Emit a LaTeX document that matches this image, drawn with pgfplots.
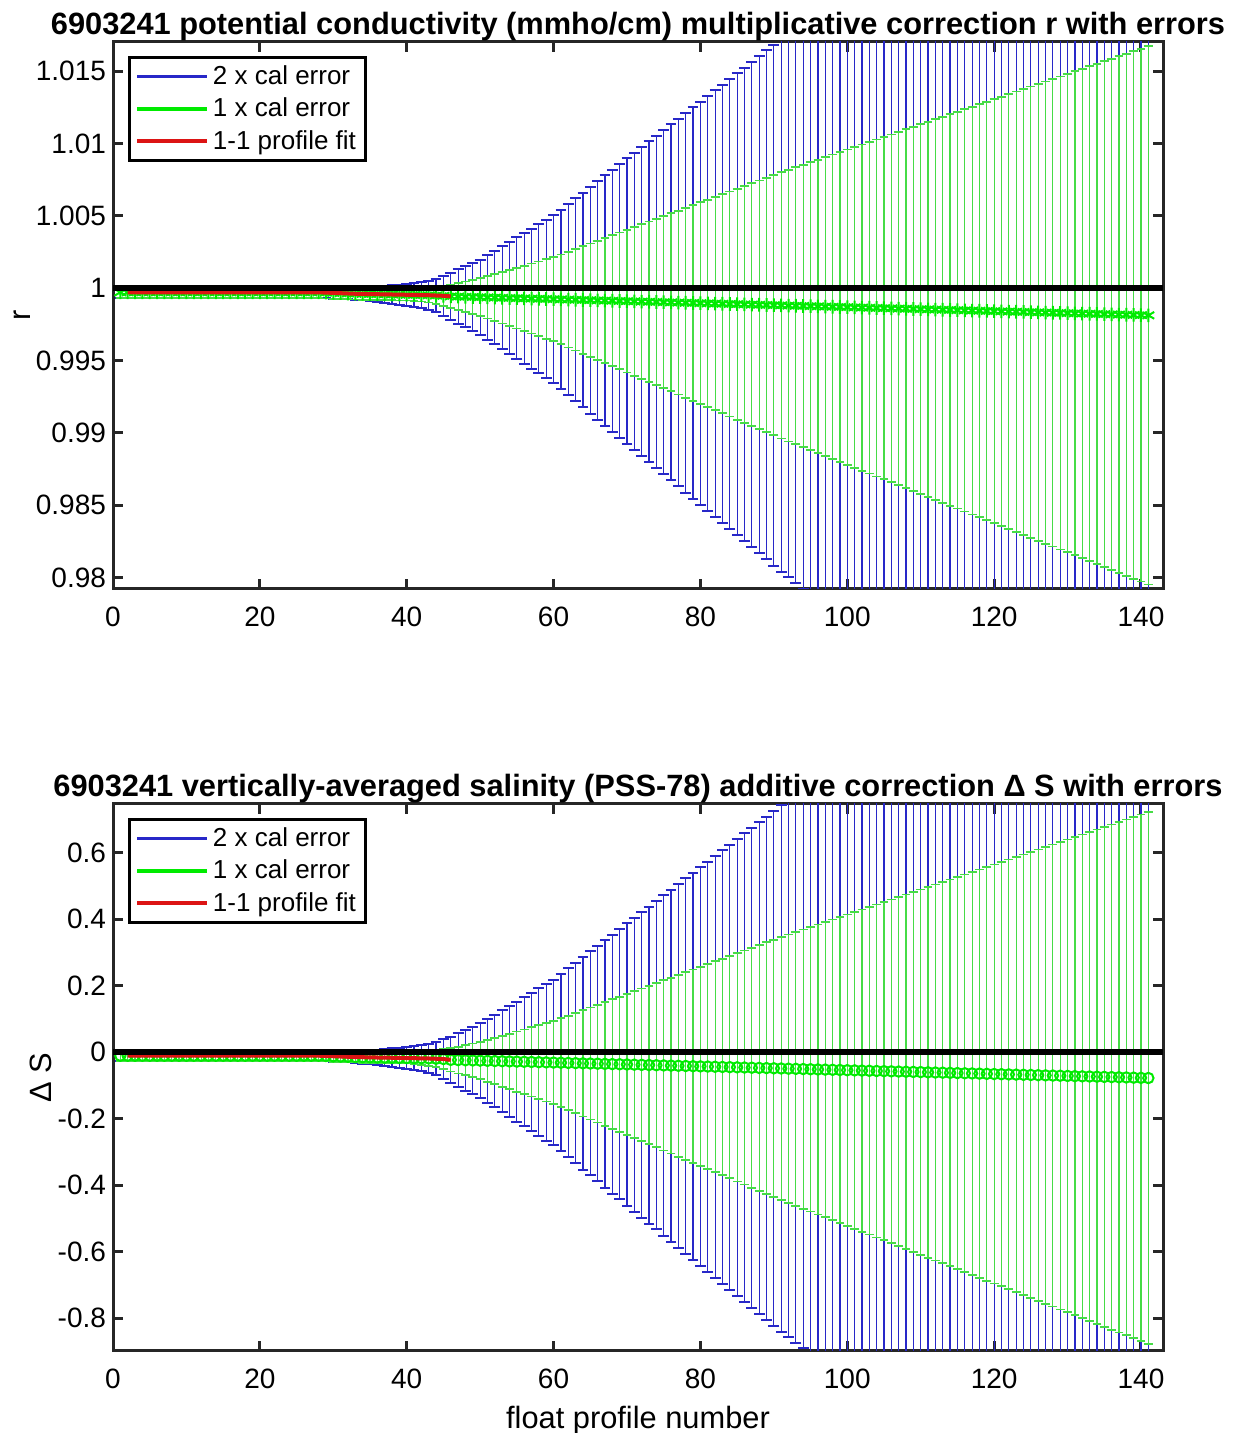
\documentclass[border=0pt]{standalone}
\usepackage{pgfplots}
\usepackage{pgfplotstable}
\pgfplotsset{compat=1.18}
\usepackage{fontspec}
\setmainfont{Liberation Sans}
\definecolor{cBlue}{RGB}{40,40,200}
\definecolor{cGreen}{RGB}{0,235,0}
\definecolor{cBar}{RGB}{70,220,70}
\definecolor{cRed}{RGB}{220,20,20}
\definecolor{cAx}{RGB}{38,38,38}

% n: profile, r: correction, e: 1x error, b: 2x error, s: Delta S, es: 1x error, bs: 2x error
\pgfplotstableread{
n r e b s es bs
1 0.99972 0.0004 0.0004 -0.0110 0.0165 0.0165
2 0.99972 0.0004 0.0004 -0.0110 0.0165 0.0165
3 0.99972 0.0004 0.0004 -0.0110 0.0165 0.0165
4 0.99972 0.0004 0.0004 -0.0110 0.0165 0.0165
5 0.99972 0.0004 0.0004 -0.0110 0.0165 0.0165
6 0.99972 0.0004 0.0004 -0.0110 0.0165 0.0165
7 0.99972 0.0004 0.0004 -0.0110 0.0165 0.0165
8 0.99972 0.0004 0.0004 -0.0110 0.0165 0.0165
9 0.99972 0.0004 0.0004 -0.0110 0.0165 0.0165
10 0.99972 0.0004 0.0004 -0.0110 0.0165 0.0165
11 0.99972 0.0004 0.0004 -0.0110 0.0165 0.0165
12 0.99972 0.0004 0.0004 -0.0110 0.0165 0.0165
13 0.99972 0.0004 0.0004 -0.0110 0.0165 0.0165
14 0.99972 0.0004 0.0004 -0.0110 0.0165 0.0165
15 0.99972 0.0004 0.0004 -0.0110 0.0165 0.0165
16 0.99972 0.0004 0.0004 -0.0110 0.0165 0.0165
17 0.99972 0.0004 0.0004 -0.0110 0.0165 0.0165
18 0.99972 0.0004 0.0004 -0.0110 0.0165 0.0165
19 0.99972 0.0004 0.0004 -0.0110 0.0165 0.0165
20 0.99972 0.0004 0.0004 -0.0110 0.0165 0.0165
21 0.99972 0.0004 0.0004 -0.0110 0.0165 0.0165
22 0.99972 0.0004 0.0004 -0.0110 0.0165 0.0165
23 0.99972 0.0004 0.0004 -0.0110 0.0165 0.0165
24 0.99972 0.0004 0.0004 -0.0110 0.0165 0.0165
25 0.99972 0.0004 0.0004 -0.0110 0.0165 0.0165
26 0.99972 0.0004 0.0004 -0.0110 0.0165 0.0165
27 0.99972 0.0004 0.0004 -0.0110 0.0165 0.0165
28 0.99972 0.0004 0.0004 -0.0110 0.0165 0.0165
29 0.99970 0.0004 0.0004 -0.0118 0.0165 0.0165
30 0.99968 0.0004 0.0004 -0.0126 0.0165 0.0165
31 0.99966 0.0004 0.0004 -0.0134 0.0165 0.0165
32 0.99964 0.0004 0.0004 -0.0143 0.0165 0.0165
33 0.99962 0.0004 0.0004 -0.0151 0.0165 0.0165
34 0.99961 0.0004 0.00045 -0.0155 0.0165 0.019
35 0.99960 0.0004 0.00050 -0.0160 0.0165 0.021
36 0.99959 0.0004 0.00055 -0.0164 0.0165 0.024
37 0.99958 0.0004 0.00060 -0.0168 0.0165 0.026
38 0.99957 0.0004 0.00065 -0.0172 0.0165 0.028
39 0.99956 0.0004 0.00070 -0.0176 0.0165 0.030
40 0.99955 0.0004 0.00075 -0.0181 0.0165 0.032
41 0.99954 0.00042 0.00084 -0.0185 0.0180 0.0360
42 0.99953 0.00045 0.00090 -0.0189 0.0194 0.0388
43 0.99952 0.00050 0.00100 -0.0193 0.0215 0.0430
44 0.99950 0.000571 0.001142 -0.0202 0.0246 0.0492
45 0.99948 0.000693 0.001386 -0.0210 0.0298 0.0596
46 0.999440 0.000814 0.001628 -0.0235 0.0350 0.0700
47 0.999426 0.000936 0.001872 -0.0241 0.0402 0.0804
48 0.999412 0.001057 0.002114 -0.0247 0.0455 0.0910
49 0.999399 0.001179 0.002358 -0.0252 0.0507 0.1014
50 0.999385 0.001300 0.002600 -0.0258 0.0559 0.1118
51 0.999371 0.001460 0.002920 -0.0264 0.0628 0.1256
52 0.999357 0.001620 0.003240 -0.0270 0.0697 0.1394
53 0.999343 0.001780 0.003560 -0.0275 0.0765 0.1530
54 0.999330 0.001940 0.003880 -0.0281 0.0834 0.1668
55 0.999316 0.002100 0.004200 -0.0287 0.0903 0.1806
56 0.999302 0.002260 0.004520 -0.0293 0.0972 0.1944
57 0.999288 0.002420 0.004840 -0.0298 0.1041 0.2082
58 0.999274 0.002580 0.005160 -0.0304 0.1109 0.2218
59 0.999261 0.002740 0.005480 -0.0310 0.1178 0.2356
60 0.999247 0.002900 0.005800 -0.0316 0.1247 0.2494
61 0.999233 0.003103 0.006206 -0.0321 0.1334 0.2668
62 0.999219 0.003306 0.006612 -0.0327 0.1422 0.2844
63 0.999205 0.003510 0.007020 -0.0333 0.1509 0.3018
64 0.999192 0.003713 0.007426 -0.0339 0.1597 0.3194
65 0.999178 0.003916 0.007832 -0.0344 0.1684 0.3368
66 0.999164 0.004119 0.008238 -0.0350 0.1771 0.3542
67 0.999150 0.004323 0.008646 -0.0356 0.1859 0.3718
68 0.999136 0.004526 0.009052 -0.0362 0.1946 0.3892
69 0.999123 0.004729 0.009458 -0.0367 0.2033 0.4066
70 0.999109 0.004932 0.009864 -0.0373 0.2121 0.4242
71 0.999095 0.005135 0.010270 -0.0379 0.2208 0.4416
72 0.999081 0.005339 0.010678 -0.0385 0.2296 0.4592
73 0.999067 0.005542 0.011084 -0.0390 0.2383 0.4766
74 0.999054 0.005745 0.011490 -0.0396 0.2470 0.4940
75 0.999040 0.005948 0.011896 -0.0402 0.2558 0.5116
76 0.999026 0.006152 0.012304 -0.0408 0.2645 0.5290
77 0.999012 0.006355 0.012710 -0.0413 0.2733 0.5466
78 0.998998 0.006558 0.013116 -0.0419 0.2820 0.5640
79 0.998985 0.006761 0.013522 -0.0425 0.2907 0.5814
80 0.998971 0.006965 0.013930 -0.0431 0.2995 0.5990
81 0.998957 0.007168 0.014336 -0.0436 0.3082 0.6164
82 0.998943 0.007371 0.014742 -0.0442 0.3170 0.6340
83 0.998929 0.007574 0.015148 -0.0448 0.3257 0.6514
84 0.998916 0.007777 0.015554 -0.0454 0.3344 0.6688
85 0.998902 0.007981 0.015962 -0.0459 0.3432 0.6864
86 0.998888 0.008184 0.016368 -0.0465 0.3519 0.7038
87 0.998874 0.008387 0.016774 -0.0471 0.3606 0.7212
88 0.998860 0.008590 0.017180 -0.0477 0.3694 0.7388
89 0.998847 0.008794 0.017588 -0.0482 0.3781 0.7562
90 0.998833 0.008997 0.017994 -0.0488 0.3869 0.7738
91 0.998819 0.009200 0.018400 -0.0494 0.3956 0.7912
92 0.998805 0.009388 0.018776 -0.0500 0.4037 0.8074
93 0.998791 0.009576 0.019152 -0.0505 0.4118 0.8236
94 0.998778 0.009764 0.019528 -0.0511 0.4199 0.8398
95 0.998764 0.009952 0.019904 -0.0517 0.4279 0.8558
96 0.998750 0.010140 0.020280 -0.0523 0.4360 0.8720
97 0.998736 0.010328 0.020656 -0.0528 0.4441 0.8882
98 0.998722 0.010516 0.021032 -0.0534 0.4522 0.9044
99 0.998709 0.010704 0.021408 -0.0540 0.4603 0.9206
100 0.998695 0.010892 0.021784 -0.0546 0.4684 0.9368
101 0.998681 0.011080 0.022160 -0.0551 0.4764 0.9528
102 0.998667 0.011268 0.022536 -0.0557 0.4845 0.9690
103 0.998653 0.011456 0.022912 -0.0563 0.4926 0.9852
104 0.998640 0.011644 0.023288 -0.0569 0.5007 1.0014
105 0.998626 0.011832 0.023664 -0.0574 0.5088 1.0176
106 0.998612 0.012020 0.024040 -0.0580 0.5169 1.0338
107 0.998598 0.012208 0.024416 -0.0586 0.5249 1.0498
108 0.998584 0.012396 0.024792 -0.0592 0.5330 1.0660
109 0.998571 0.012584 0.025168 -0.0597 0.5411 1.0822
110 0.998557 0.012772 0.025544 -0.0603 0.5492 1.0984
111 0.998543 0.012960 0.025920 -0.0609 0.5573 1.1146
112 0.998529 0.013148 0.026296 -0.0615 0.5654 1.1308
113 0.998515 0.013336 0.026672 -0.0620 0.5734 1.1468
114 0.998502 0.013524 0.027048 -0.0626 0.5815 1.1630
115 0.998488 0.013712 0.027424 -0.0632 0.5896 1.1792
116 0.998474 0.013900 0.027800 -0.0638 0.5977 1.1954
117 0.998460 0.014088 0.028176 -0.0643 0.6058 1.2116
118 0.998446 0.014276 0.028552 -0.0649 0.6139 1.2278
119 0.998433 0.014464 0.028928 -0.0655 0.6220 1.2440
120 0.998419 0.014652 0.029304 -0.0661 0.6300 1.2600
121 0.998405 0.014840 0.029680 -0.0666 0.6381 1.2762
122 0.998391 0.015028 0.030056 -0.0672 0.6462 1.2924
123 0.998377 0.015216 0.030432 -0.0678 0.6543 1.3086
124 0.998364 0.015404 0.030808 -0.0684 0.6624 1.3248
125 0.998350 0.015592 0.031184 -0.0689 0.6705 1.3410
126 0.998336 0.015780 0.031560 -0.0695 0.6785 1.3570
127 0.998322 0.015968 0.031936 -0.0701 0.6866 1.3732
128 0.998308 0.016156 0.032312 -0.0707 0.6947 1.3894
129 0.998295 0.016344 0.032688 -0.0712 0.7028 1.4056
130 0.998281 0.016532 0.033064 -0.0718 0.7109 1.4218
131 0.998267 0.016720 0.033440 -0.0724 0.7190 1.4380
132 0.998253 0.016908 0.033816 -0.0730 0.7270 1.4540
133 0.998239 0.017096 0.034192 -0.0735 0.7351 1.4702
134 0.998226 0.017284 0.034568 -0.0741 0.7432 1.4864
135 0.998212 0.017472 0.034944 -0.0747 0.7513 1.5026
136 0.998198 0.017660 0.035320 -0.0753 0.7594 1.5188
137 0.998184 0.017848 0.035696 -0.0758 0.7675 1.5350
138 0.998170 0.018036 0.036072 -0.0764 0.7755 1.5510
139 0.998157 0.018224 0.036448 -0.0770 0.7836 1.5672
140 0.998143 0.018412 0.036824 -0.0776 0.7917 1.5834
141 0.998129 0.018600 0.037200 -0.0781 0.7998 1.5996
}\data

\pgfplotsset{
  mlab/.style={
    scale only axis, width=525pt, height=273.5pt,
    xmin=0, xmax=143,
    xtick={0,20,...,140},
    clip marker paths=true,
    axis line style={line width=1.5pt, cAx},
    tick style={line width=1.5pt, cAx},
    major tick length=5pt,
    tick align=inside,
    /pgf/number format/assume math mode=true,
    tick label style={font=\fontsize{14}{16}\selectfont},
    xticklabel style={yshift=-5.5pt},
    ylabel shift=-4pt,
    xlabel shift=2pt,
    label style={font=\fontsize{15.4}{18}\selectfont},
    title style={font=\fontsize{15.4}{18}\selectfont\bfseries, at={(0.5,1)}, anchor=base, yshift=-2.5pt},
    legend style={at={(0.0143,0.974)}, anchor=north west, draw=black, line width=1.5pt,
      font=\fontsize{13}{15}\selectfont, row sep=1.2pt, inner xsep=3pt, inner ysep=2pt,
      cells={anchor=west}},
    legend image code/.code={\draw[#1] (0pt,0pt) -- (35pt,0pt);},
  },
  bluebars/.style={draw=none, mark=none, forget plot,
    error bars/.cd, y dir=both, y explicit,
    error bar style={draw=cBlue, line width=0.6pt},
    error mark options={rotate=90, draw=cBlue, mark size=2.7pt, line width=1pt}},
  greenbars/.style={only marks, color=cGreen, forget plot,
    error bars/.cd, y dir=both, y explicit,
    error bar style={draw=cBar, line width=0.6pt},
    error mark options={rotate=90, draw=cBar, mark size=2.2pt, line width=0.9pt}},
}

\begin{document}
\begin{tikzpicture}
\useasboundingbox (0,0) rectangle (621pt,716.5pt);
% ---------- top axis ----------
\begin{axis}[mlab, at={(56.5pt,422pt)}, anchor=south west,
  ymin=0.97922, ymax=1.01702,
  ytick={0.98,0.985,0.99,0.995,1,1.005,1.01,1.015},
  yticklabels={0.98,0.985,0.99,0.995,1,1.005,1.01,1.015},
  ylabel={r},
  title={6903241 potential conductivity (mmho/cm) multiplicative correction r with errors}]
\addplot[bluebars] table[x=n, y=r, y error=b] {\data};
\addplot[mark=asterisk, mark size=3.4pt, mark options={line width=1pt, draw=cGreen}, greenbars]
  table[x=n, y=r, y error=e] {\data};
\addplot[cRed, line width=2pt, forget plot, restrict x to domain=2:46] table[x=n, y=r] {\data};
\addplot[black, line width=2.8pt, forget plot] coordinates {(0,1) (143,1)};
\addlegendimage{cBlue, line width=1.7pt}\addlegendentry{2 x cal error}
\addlegendimage{cGreen, line width=1.7pt}\addlegendentry{1 x cal error}
\addlegendimage{cRed, line width=1.7pt}\addlegendentry{1-1 profile fit}
\end{axis}
% ---------- bottom axis ----------
\begin{axis}[mlab, at={(56.5pt,41pt)}, anchor=south west,
  ymin=-0.899, ymax=0.746,
  ytick={-0.8,-0.6,-0.4,-0.2,0,0.2,0.4,0.6},
  yticklabels={-0.8,-0.6,-0.4,-0.2,0,0.2,0.4,0.6},
  ylabel={Δ S},
  xlabel={float profile number},
  title={6903241 vertically-averaged salinity (PSS-78) additive correction Δ S with errors}]
\addplot[bluebars] table[x=n, y=s, y error=bs] {\data};
\addplot[mark=o, mark size=2.6pt, mark options={line width=1pt, draw=cGreen, fill=none}, greenbars]
  table[x=n, y=s, y error=es] {\data};
\addplot[cRed, line width=2pt, forget plot, restrict x to domain=2:46] table[x=n, y=s] {\data};
\addplot[black, line width=2.8pt, forget plot] coordinates {(0,0) (143,0)};
\addlegendimage{cBlue, line width=1.7pt}\addlegendentry{2 x cal error}
\addlegendimage{cGreen, line width=1.7pt}\addlegendentry{1 x cal error}
\addlegendimage{cRed, line width=1.7pt}\addlegendentry{1-1 profile fit}
\end{axis}
\end{tikzpicture}
\end{document}
